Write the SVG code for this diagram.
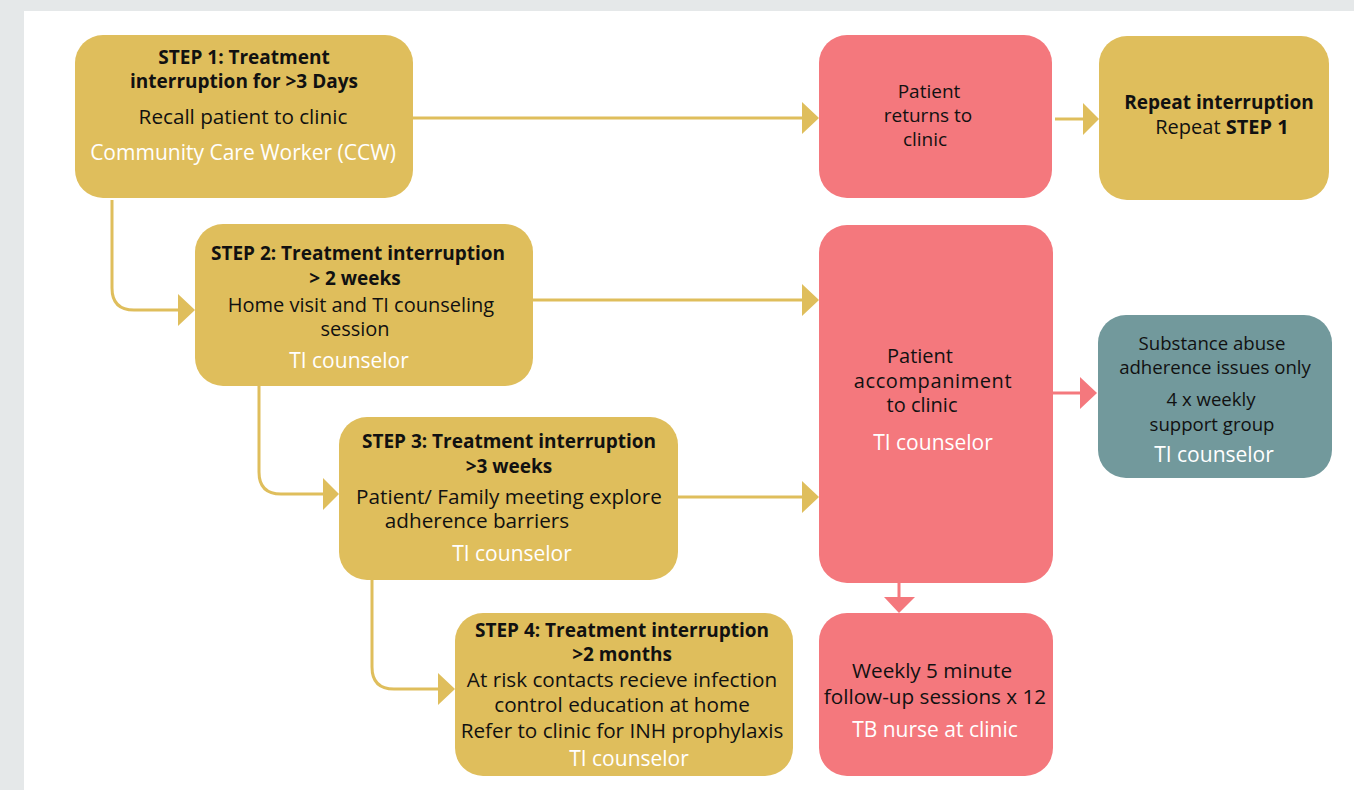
<svg xmlns="http://www.w3.org/2000/svg" width="1354" height="790" viewBox="0 0 1354 790">
<style>
.gold{fill:#dfbe5c}
.pink{fill:#f4787d}
.teal{fill:#72999c}
text{font-family:"Open Sans","Noto Sans",sans-serif;text-anchor:middle;fill:#111}
.b{font-weight:700;font-size:19px}
.n{font-size:20px}
.m{font-size:20.7px}
.s{font-size:18.6px}
.r{font-size:19px}
.w{fill:#fff;font-size:21px}
.cg{fill:none;stroke:#dfbe5c;stroke-width:3}
.cp{fill:none;stroke:#f4787d;stroke-width:3}
</style>
<rect x="0" y="0" width="1354" height="790" fill="#e5e8e9"/>
<rect x="24" y="11" width="1330" height="779" fill="#fff"/>

<g id="connectors">
<path class="cg" d="M413,118 H803"/><path d="M802,102 L819,118 L802,134 Z" fill="#dfbe5c"/>
<path class="cg" d="M1055,119 H1084"/><path d="M1083,103 L1099,119 L1083,135 Z" fill="#dfbe5c"/>
<path class="cg" d="M112,200 V288 Q112,310 134,310 H179"/><path d="M178,294 L195,310 L178,326 Z" fill="#dfbe5c"/>
<path class="cg" d="M533,300 H803"/><path d="M802,284 L819,300 L802,316 Z" fill="#dfbe5c"/>
<path class="cg" d="M259,386 V472 Q259,494 281,494 H324"/><path d="M323,478 L339,494 L323,510 Z" fill="#dfbe5c"/>
<path class="cg" d="M678,497 H803"/><path d="M802,481 L819,497 L802,513 Z" fill="#dfbe5c"/>
<path class="cg" d="M372,580 V667 Q372,689 394,689 H439"/><path d="M438,673 L455,689 L438,705 Z" fill="#dfbe5c"/>
<path class="cp" d="M1053,393 H1081"/><path d="M1080,377 L1097,393 L1080,409 Z" fill="#f4787d"/>
<path class="cp" d="M899,583 V598"/><path d="M884,597 L899,613 L915,597 Z" fill="#f4787d"/>
</g>

<g id="step1">
<rect class="gold" x="75" y="35" width="338" height="163" rx="28"/>
<text class="b" x="244" y="64">STEP 1: Treatment</text>
<text class="b" x="244" y="88">interruption for &gt;3 Days</text>
<text class="m" x="243" y="124">Recall patient to clinic</text>
<text class="w" x="243" y="160">Community Care Worker (CCW)</text>
</g>

<g id="patient-returns">
<rect class="pink" x="819" y="35" width="233" height="163" rx="28"/>
<text class="r" x="929" y="98">Patient</text>
<text class="r" x="928" y="122">returns to</text>
<text class="r" x="925" y="146">clinic</text>
</g>

<g id="repeat">
<rect class="gold" x="1099" y="36" width="230" height="164" rx="28"/>
<text class="b" x="1219" y="109">Repeat interruption</text>
<text class="n" x="1222" y="134">Repeat <tspan font-weight="700">STEP 1</tspan></text>
</g>

<g id="step2">
<rect class="gold" x="195" y="224" width="338" height="162" rx="28"/>
<text class="b" x="358" y="260">STEP 2: Treatment interruption</text>
<text class="b" x="355" y="285">&gt; 2 weeks</text>
<text class="n" x="361" y="312">Home visit and TI counseling</text>
<text class="n" x="355" y="336">session</text>
<text class="w" x="349" y="368">TI counselor</text>
</g>

<g id="accompaniment">
<rect class="pink" x="819" y="225" width="234" height="358" rx="28"/>
<text class="n" x="920" y="363">Patient</text>
<text class="n" x="933" y="388" letter-spacing="0.6">accompaniment</text>
<text class="n" x="922" y="412">to clinic</text>
<text class="w" x="933" y="450">TI counselor</text>
</g>

<g id="step3">
<rect class="gold" x="339" y="417" width="339" height="163" rx="28"/>
<text class="b" x="509" y="448">STEP 3: Treatment interruption</text>
<text class="b" x="509" y="473">&gt;3 weeks</text>
<text class="m" x="509" y="504">Patient/ Family meeting explore</text>
<text class="m" x="477" y="528">adherence barriers</text>
<text class="w" x="512" y="561">TI counselor</text>
</g>

<g id="substance">
<rect class="teal" x="1098" y="315" width="234" height="163" rx="28"/>
<text class="s" x="1212" y="350">Substance abuse</text>
<text class="s" x="1215" y="374">adherence issues only</text>
<text class="s" x="1211" y="406">4 x weekly</text>
<text class="s" x="1212" y="431">support group</text>
<text class="w" x="1214" y="462">TI counselor</text>
</g>

<g id="step4">
<rect class="gold" x="455" y="613" width="338" height="163" rx="28"/>
<text class="b" x="622" y="637">STEP 4: Treatment interruption</text>
<text class="b" x="622" y="661">&gt;2 months</text>
<text class="m" x="622" y="687">At risk contacts recieve infection</text>
<text class="m" x="622" y="712">control education at home</text>
<text class="m" x="622" y="738">Refer to clinic for INH prophylaxis</text>
<text class="w" x="629" y="766">TI counselor</text>
</g>

<g id="weekly">
<rect class="pink" x="819" y="613" width="234" height="163" rx="28"/>
<text class="m" x="932" y="678">Weekly 5 minute</text>
<text class="m" x="935" y="704">follow-up sessions x 12</text>
<text class="w" x="935" y="737">TB nurse at clinic</text>
</g>
</svg>
